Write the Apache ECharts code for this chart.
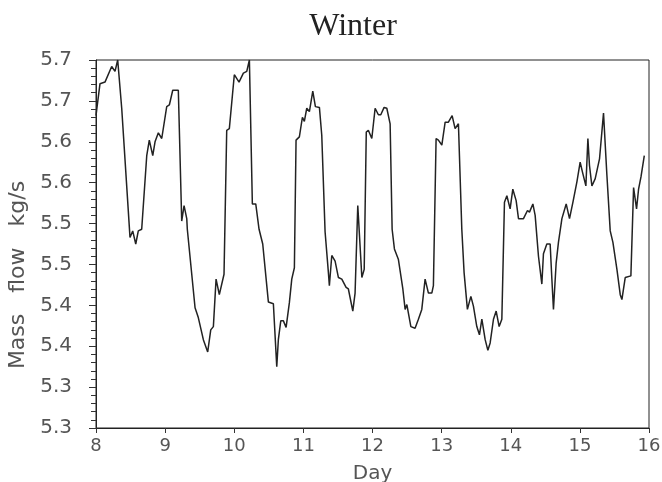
<!DOCTYPE html>
<html>
<head>
<meta charset="utf-8">
<script src="https://cdn.jsdelivr.net/npm/echarts@6/dist/echarts.min.js"></script>
<style>
  html, body { margin: 0; padding: 0; background: #fff; }
  #chart { width: 662px; height: 482px; }
</style>
</head>
<body>
<div id="chart"></div>
<script>
// day (x) and mass flow kg/s (y)
var days = [
  8.00, 8.01, 8.058, 8.13, 8.227, 8.275, 8.314, 8.372, 8.492, 8.531,
  8.575, 8.612, 8.661, 8.734, 8.771, 8.821, 8.854, 8.902, 8.951, 9.023,
  9.061, 9.11, 9.191, 9.24, 9.274, 9.313, 9.321, 9.433, 9.48, 9.553,
  9.616, 9.66, 9.698, 9.737, 9.784, 9.852, 9.891, 9.929, 10.001, 10.069,
  10.132, 10.181, 10.219, 10.262, 10.311, 10.359, 10.412, 10.494, 10.566, 10.615,
  10.638, 10.673, 10.711, 10.75, 10.797, 10.832, 10.87, 10.894, 10.942, 10.986,
  11.014, 11.049, 11.087, 11.136, 11.174, 11.232, 11.266, 11.314, 11.362, 11.376,
  11.411, 11.459, 11.507, 11.556, 11.618, 11.651, 11.715, 11.748, 11.787, 11.846,
  11.88, 11.91, 11.94, 11.99, 12.038, 12.085, 12.12, 12.168, 12.207, 12.255,
  12.284, 12.317, 12.375, 12.439, 12.472, 12.497, 12.555, 12.616, 12.664, 12.713,
  12.761, 12.809, 12.858, 12.881, 12.92, 12.953, 13.003, 13.051, 13.098, 13.152,
  13.195, 13.243, 13.292, 13.325, 13.373, 13.423, 13.46, 13.509, 13.547, 13.582,
  13.63, 13.669, 13.702, 13.75, 13.789, 13.832, 13.871, 13.909, 13.944, 13.991,
  14.03, 14.078, 14.112, 14.184, 14.242, 14.271, 14.32, 14.353, 14.401, 14.45,
  14.473, 14.522, 14.57, 14.595, 14.618, 14.657, 14.69, 14.74, 14.802, 14.85,
  14.899, 14.957, 15.004, 15.043, 15.087, 15.116, 15.139, 15.174, 15.222, 15.284,
  15.342, 15.391, 15.439, 15.478, 15.536, 15.584, 15.608, 15.656, 15.738, 15.777,
  15.82, 15.849, 15.884, 15.932
];
var flow = [
  5.682, 5.689, 5.721, 5.723, 5.742, 5.736, 5.750, 5.691, 5.533, 5.541,
  5.525, 5.541, 5.543, 5.633, 5.652, 5.633, 5.650, 5.661, 5.654, 5.693,
  5.695, 5.713, 5.713, 5.553, 5.572, 5.556, 5.543, 5.447, 5.435, 5.408,
  5.393, 5.420, 5.424, 5.482, 5.463, 5.488, 5.664, 5.666, 5.732, 5.723,
  5.734, 5.736, 5.750, 5.574, 5.574, 5.543, 5.525, 5.454, 5.452, 5.375,
  5.408, 5.431, 5.431, 5.423, 5.453, 5.482, 5.496, 5.652, 5.656, 5.680,
  5.675, 5.691, 5.687, 5.712, 5.693, 5.692, 5.658, 5.540, 5.490, 5.474,
  5.511, 5.504, 5.484, 5.482, 5.472, 5.470, 5.443, 5.465, 5.572, 5.484,
  5.494, 5.662, 5.664, 5.654, 5.691, 5.683, 5.683, 5.692, 5.691, 5.672,
  5.543, 5.519, 5.506, 5.470, 5.445, 5.451, 5.424, 5.422, 5.433, 5.445,
  5.482, 5.465, 5.465, 5.474, 5.654, 5.652, 5.646, 5.674, 5.674, 5.682,
  5.666, 5.672, 5.543, 5.490, 5.445, 5.461, 5.449, 5.424, 5.414, 5.433,
  5.408, 5.395, 5.404, 5.433, 5.443, 5.424, 5.433, 5.576, 5.584, 5.568,
  5.592, 5.578, 5.556, 5.556, 5.566, 5.564, 5.574, 5.560, 5.510, 5.476,
  5.513, 5.525, 5.525, 5.482, 5.445, 5.502, 5.527, 5.556, 5.574, 5.556,
  5.576, 5.601, 5.625, 5.611, 5.596, 5.654, 5.621, 5.596, 5.605, 5.629,
  5.685, 5.609, 5.541, 5.527, 5.494, 5.463, 5.457, 5.484, 5.486, 5.594,
  5.568, 5.592, 5.607, 5.633
];
var dayTicks = [8, 9, 10, 11, 12, 13, 14, 15, 16];

var chart = echarts.init(document.getElementById('chart'), null, { renderer: 'canvas' });

var points = days.map(function (d, i) { return [d, flow[i]]; });

var labelFont = '"DejaVu Sans", sans-serif';

chart.setOption({
  backgroundColor: '#fff',
  animation: false,
  title: {
    text: 'Winter',
    left: 348, top: 6,
    textAlign: 'center',
    textStyle: { fontFamily: '"Liberation Serif", serif', fontWeight: 'normal', fontSize: 32, color: '#222' }
  },
  grid: {
    left: 96, right: 13, top: 60, bottom: 54,
    outerBoundsMode: 'none',
    show: true, borderColor: '#222', borderWidth: 1
  },
  xAxis: {
    type: 'value',
    min: dayTicks[0], max: dayTicks[dayTicks.length - 1], interval: 1,
    name: 'Day', nameLocation: 'middle', nameGap: 36,
    nameTextStyle: { fontFamily: labelFont, fontSize: 20, color: '#555' },
    axisLine: { lineStyle: { color: '#222', width: 1 } },
    axisTick: { show: true, inside: false, length: 5, lineStyle: { color: '#333' } },
    axisLabel: { fontFamily: labelFont, fontSize: 18, color: '#555', margin: 9 },
    splitLine: { show: false }
  },
  yAxis: {
    type: 'value',
    min: 5.30, max: 5.75, interval: 0.05,
    name: 'Mass   flow   kg/s', nameLocation: 'middle', nameGap: 56,
    nameTextStyle: { fontFamily: labelFont, fontSize: 22, color: '#555', padding: [0, 62, 0, 0] },
    axisLine: { show: true, lineStyle: { color: '#222', width: 1 } },
    axisTick: { show: true, inside: false, length: 7, lineStyle: { color: '#333' } },
    minorTick: { show: true, splitNumber: 5, length: 5, lineStyle: { color: '#333' } },
    axisLabel: {
      fontFamily: labelFont, fontSize: 20, color: '#555', margin: 24,
      formatter: function (v) { return (Math.floor(v * 10 + 1e-6) / 10).toFixed(1); }
    },
    splitLine: { show: false }
  },
  series: [{
    type: 'line',
    data: points,
    showSymbol: false,
    lineStyle: { color: '#222', width: 1.5 }
  }]
});
</script>
</body>
</html>
